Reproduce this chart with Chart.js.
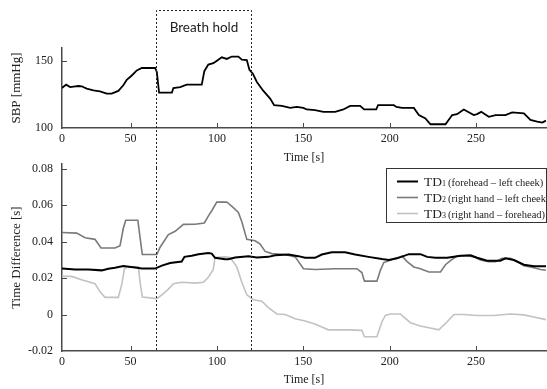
<!DOCTYPE html>
<html>
<head>
<meta charset="utf-8">
<script src="https://cdn.jsdelivr.net/npm/chart.js@4.4.1/dist/chart.umd.min.js"></script>
<style>
  html, body { margin: 0; padding: 0; background: #fff; }
  #wrap { position: relative; width: 547px; height: 389px; overflow: hidden; }
  #sbpChart { position: absolute; left: 0; top: 0; }
  #tdChart { position: absolute; left: 0; top: 148px; }
</style>
</head>
<body>
<div id="wrap">
  <canvas id="sbpChart" width="547" height="168"></canvas>
  <canvas id="tdChart" width="547" height="241"></canvas>
</div>
<script>
// x axis (the printed "0" sits at the left edge of the plot)
const xTickValues = [10.3, 50, 100, 150, 200, 250];
const xTickLabels = ['0', '50', '100', '150', '200', '250'];
const breathHold = [65, 120];

// systolic blood pressure
const sbpTicks = [100, 150];
const sbpTime = [10.3, 12.7, 15, 17, 19.8, 21.7, 24.6, 28.5, 32.3, 36.2, 39, 42.9, 45.8, 47.8, 50.7, 53.6, 56.5, 64.2, 65.2, 66.5,
  73.9, 74.8, 78.7, 82.5, 91.2, 92.7, 95, 97.9, 100, 102.8, 105.7, 108.6, 112.4, 114.4, 117.3, 118.8, 120.8, 123.1, 126.9, 130.8,
  133.1, 137.6, 142.4, 146.2, 150, 152, 156.8, 161.6, 168.4, 173.2, 177.1, 182.9, 185.2, 192.2, 193.3, 202.4, 203.9, 207.2, 214, 216.9,
  220.7, 223.6, 232.3, 236.2, 239, 242.9, 248.7, 250.6, 253, 257.4, 261.3, 267, 270.9, 277.7, 281.5, 285.4, 288.3, 290.5];
const sbpValues = [130, 132.5, 130.7, 131, 131.5, 131.3, 129.5, 128.3, 127.5, 125.8, 125.8, 127.8, 132, 136.2, 139.4, 143.2, 145, 145, 142, 126.6,
  126.6, 130, 130.7, 132.5, 132.5, 142.6, 147.6, 148.6, 150.5, 153, 151.8, 153.6, 153.6, 151.3, 151, 143.7, 140.7, 134.5, 127.8, 122.1,
  117.1, 116.6, 115.1, 115.8, 115.1, 113.9, 113.4, 112.1, 112.1, 113.9, 116.6, 116.6, 113.9, 113.9, 117.1, 117.1, 115.8, 115.1, 115.1, 109.7,
  107.2, 102.8, 102.8, 109.7, 110.4, 113.9, 109.7, 110.4, 112.1, 108.4, 109.7, 109.7, 111.7, 110.9, 106, 104.8, 104, 105.5];

// time differences
const tdTicks = [-0.02, 0, 0.02, 0.04, 0.06, 0.08];
const tdNames = ['TD1', 'TD2', 'TD3'];
const tdPairs = ['(forehead – left cheek)', '(right hand – left cheek)', '(right hand – forehead)'];

const td1Time = [10.3, 17.9, 25.6, 33.3, 37.1, 41, 45.8, 52.6, 56.5, 64.2, 68.1, 72.9, 79.6, 81.2, 85.4, 89.3, 95, 97, 98.9, 104.7,
  106.6, 110.5, 118.2, 123.1, 129.8, 133.7, 141.4, 147.2, 151, 156.8, 160.7, 166.5, 174.2, 180, 187.7, 195.5, 199.5, 204.3, 211.1, 217.8,
  221.7, 226.5, 233.3, 241, 246.8, 250.6, 256.4, 264.1, 267, 271.9, 277.7, 283.5, 290.5];
const td1Values = [0.0252, 0.0247, 0.0247, 0.0242, 0.0251, 0.0256, 0.0266, 0.0258, 0.0252, 0.0252, 0.0268, 0.0282, 0.029, 0.0316, 0.0322, 0.033, 0.0337, 0.0334, 0.0311, 0.0303,
  0.0303, 0.0313, 0.032, 0.0313, 0.0316, 0.0325, 0.0329, 0.032, 0.0311, 0.0311, 0.0329, 0.0341, 0.0341, 0.0329, 0.0316, 0.0304, 0.0299, 0.0308, 0.0331, 0.0331,
  0.0316, 0.0311, 0.0311, 0.0322, 0.0325, 0.0311, 0.0295, 0.0295, 0.0308, 0.0299, 0.0273, 0.0264, 0.0264];

const td2Time = [10.3, 18.8, 23.7, 29.4, 32.9, 41, 43.9, 45.8, 47.2, 54.2, 55.5, 56.8, 65.2, 67.1, 71.9, 75.8, 80.6, 87.3, 92.7, 95,
  97, 99.9, 105.7, 109.5, 112.4, 114.4, 117.3, 122.1, 125, 127.9, 131.8, 139.5, 145.3, 150.1, 156.8, 168.4, 181, 183.9, 185.4, 192.6,
  194.6, 196.6, 199.5, 203.3, 207.2, 210.1, 214, 217.8, 222.7, 229.4, 232.3, 235.2, 239, 244.8, 248.7, 252.5, 257.4, 261.3, 265.1, 269.9,
  273.8, 277.7, 283.5, 287.3, 290.5];
const td2Values = [0.045, 0.0446, 0.0421, 0.0412, 0.0365, 0.0365, 0.0377, 0.0473, 0.0517, 0.0517, 0.0421, 0.0329, 0.0329, 0.0369, 0.0438, 0.0456, 0.0494, 0.0495, 0.0502, 0.0539,
  0.0569, 0.0616, 0.0617, 0.0586, 0.056, 0.0508, 0.0412, 0.0404, 0.0386, 0.0346, 0.0334, 0.0329, 0.0316, 0.0251, 0.0247, 0.0251, 0.0251, 0.023, 0.0183, 0.0183,
  0.0242, 0.0285, 0.0295, 0.0308, 0.032, 0.029, 0.0261, 0.0251, 0.0233, 0.0233, 0.0273, 0.0295, 0.032, 0.0322, 0.0316, 0.0299, 0.029, 0.029, 0.0308, 0.0308,
  0.029, 0.0268, 0.0256, 0.0247, 0.0243];

const td3Time = [10.3, 15.9, 21.7, 29.4, 32.3, 35.2, 42.9, 44.9, 46.4, 47.8, 54.5, 55.5, 56.8, 65.2, 68.1, 71.9, 74.8, 79.6, 87.3, 92.2,
  95, 97.9, 98.9, 104.7, 107.6, 111.5, 114.4, 117.3, 121.1, 126, 129.8, 134.7, 139.5, 145.3, 151, 156.8, 164.5, 176.1, 183.9, 185.4,
  192.6, 195.6, 197.5, 200.4, 206.2, 208.2, 212, 217.8, 228.5, 230.4, 233.3, 237.2, 242.9, 250.6, 260.3, 269.9, 277.7, 283.5, 290.5];
const td3Values = [0.0209, 0.0209, 0.0191, 0.0169, 0.0125, 0.0094, 0.0094, 0.0165, 0.0247, 0.0261, 0.0261, 0.0177, 0.0096, 0.0087, 0.0108, 0.0139, 0.0169, 0.0177, 0.0172, 0.0177,
  0.0204, 0.0247, 0.0313, 0.0316, 0.0313, 0.0261, 0.0177, 0.0108, 0.0081, 0.0073, 0.0038, 0.0003, 0, -0.0023, -0.0035, -0.0052, -0.0084, -0.0084, -0.0087, -0.0122,
  -0.0122, -0.0038, -0.0005, 0.0003, 0.0003, -0.0014, -0.0045, -0.0063, -0.0084, -0.0066, -0.004, 0, 0, -0.0005, -0.0005, 0.0003, -0.0002, -0.0014, -0.0028];

const axisColor = '#4a4a4a';
const dotColor = '#222';

Chart.defaults.font.family = "'Liberation Serif', 'Times New Roman', serif";
Chart.defaults.font.size = 12;
Chart.defaults.color = '#222';

const pts = (t, v) => t.map((x, i) => ({x: x, y: v[i]}));

// small tick marks pointing into the plot
const inwardTicks = {
  id: 'inwardTicks',
  afterDraw(chart) {
    const {ctx, chartArea: a, scales: {x, y}} = chart;
    ctx.save();
    ctx.strokeStyle = axisColor;
    ctx.lineWidth = 1;
    ctx.beginPath();
    x.ticks.forEach(t => {
      const px = Math.round(x.getPixelForValue(t.value)) + 0.5;
      if (px - a.left < 3) return;
      ctx.moveTo(px, a.bottom);
      ctx.lineTo(px, a.bottom - 5);
    });
    y.ticks.forEach(t => {
      const py = Math.round(y.getPixelForValue(t.value)) + 0.5;
      if (a.bottom - py < 3) return;
      ctx.moveTo(a.left, py);
      ctx.lineTo(a.left + 5, py);
    });
    ctx.stroke();
    ctx.restore();
  }
};

// dotted "Breath hold" frame, upper part
const breathTop = {
  id: 'breathTop',
  afterDraw(chart) {
    const {ctx, scales: {x}} = chart;
    const x0 = Math.round(x.getPixelForValue(breathHold[0])) + 0.5;
    const x1 = Math.round(x.getPixelForValue(breathHold[1])) + 0.5;
    ctx.save();
    ctx.strokeStyle = dotColor;
    ctx.lineWidth = 1;
    ctx.setLineDash([2, 2]);
    ctx.beginPath();
    ctx.moveTo(x0, chart.height);
    ctx.lineTo(x0, 10.5);
    ctx.lineTo(x1, 10.5);
    ctx.lineTo(x1, chart.height);
    ctx.stroke();
    ctx.setLineDash([]);
    ctx.fillStyle = '#222';
    ctx.font = "13.5px Lato, 'Open Sans', sans-serif";
    ctx.textAlign = 'center';
    ctx.textBaseline = 'middle';
    ctx.fillText('Breath hold', (x0 + x1) / 2, 28);
    ctx.restore();
  }
};

// dotted frame, lower part
const breathBottom = {
  id: 'breathBottom',
  afterDraw(chart) {
    const {ctx, chartArea: a, scales: {x}} = chart;
    ctx.save();
    ctx.strokeStyle = dotColor;
    ctx.lineWidth = 1;
    ctx.setLineDash([2, 2]);
    ctx.beginPath();
    breathHold.forEach(v => {
      const px = Math.round(x.getPixelForValue(v)) + 0.5;
      ctx.moveTo(px, 20);
      ctx.lineTo(px, a.bottom);
    });
    ctx.stroke();
    ctx.restore();
  }
};

// boxed legend with subscripts
const boxLegend = {
  id: 'boxLegend',
  afterDraw(chart) {
    const {ctx} = chart;
    const left = 386.5, top = 20.5, right = 546.5, bottom = 74.5;
    ctx.save();
    ctx.fillStyle = '#fff';
    ctx.fillRect(left, top, right - left, bottom - top);
    ctx.strokeStyle = '#333';
    ctx.lineWidth = 1;
    ctx.strokeRect(left, top, right - left, bottom - top);
    chart.data.datasets.forEach((ds, i) => {
      const yy = top + 13 + i * 16;
      ctx.strokeStyle = ds.borderColor;
      ctx.lineWidth = ds.borderWidth;
      ctx.beginPath();
      ctx.moveTo(397, yy);
      ctx.lineTo(418, yy);
      ctx.stroke();
      const name = tdNames[i];
      const base = yy + 4.5;
      ctx.fillStyle = '#222';
      ctx.textBaseline = 'alphabetic';
      ctx.textAlign = 'left';
      ctx.font = "13.5px 'Liberation Serif', serif";
      let tx = 424;
      const main = name.slice(0, -1);
      ctx.fillText(main, tx, base);
      tx += ctx.measureText(main).width;
      ctx.font = "8px 'Liberation Serif', serif";
      ctx.fillText(name.slice(-1), tx, base);
      tx += ctx.measureText(name.slice(-1)).width + 2;
      ctx.font = "10.5px 'Liberation Serif', serif";
      ctx.fillText(tdPairs[i], tx, base);
    });
    ctx.restore();
  }
};

function axes(yMin, yMax, yTicks, yTitle, yFormat, xHeight, titleBottom) {
  return {
    x: {
      type: 'linear',
      min: 10.3,
      max: 290.5,
      afterBuildTicks: s => { s.ticks = xTickValues.map(v => ({value: v})); },
      afterFit: s => { s.height = xHeight; },
      ticks: { padding: 4, maxRotation: 0, autoSkip: false, callback: (v, i) => xTickLabels[i] },
      grid: { drawOnChartArea: false, drawTicks: false },
      border: { color: axisColor, width: 1.5 },
      title: { display: true, text: 'Time [s]', padding: {top: 0, bottom: titleBottom}, font: {size: 12} }
    },
    y: {
      min: yMin,
      max: yMax,
      afterBuildTicks: s => { s.ticks = yTicks.map(v => ({value: v})); },
      afterFit: s => { s.width = 62; },
      ticks: { padding: 9, callback: yFormat },
      grid: { drawOnChartArea: false, drawTicks: false },
      border: { color: axisColor, width: 1.5 },
      title: { display: true, text: yTitle, padding: {top: 9, bottom: 0}, font: {size: 13} }
    }
  };
}

new Chart(document.getElementById('sbpChart'), {
  type: 'line',
  data: {
    datasets: [{
      label: 'SBP',
      data: pts(sbpTime, sbpValues),
      borderColor: '#000',
      borderWidth: 1.8,
      pointRadius: 0,
      tension: 0,
      fill: false
    }]
  },
  options: {
    responsive: false,
    animation: false,
    layout: { padding: {top: 48, right: 1, left: 0, bottom: 0} },
    plugins: { legend: { display: false }, tooltip: { enabled: false } },
    scales: axes(100, 160, sbpTicks, 'SBP [mmHg]', v => v, 40, 2.5)
  },
  plugins: [inwardTicks, breathTop]
});

new Chart(document.getElementById('tdChart'), {
  type: 'line',
  data: {
    datasets: [{
      label: tdNames[0] + ' ' + tdPairs[0],
      data: pts(td1Time, td1Values),
      borderColor: '#000',
      borderWidth: 2,
      pointRadius: 0,
      tension: 0,
      fill: false
    }, {
      label: tdNames[1] + ' ' + tdPairs[1],
      data: pts(td2Time, td2Values),
      borderColor: '#7a7a7a',
      borderWidth: 1.6,
      pointRadius: 0,
      tension: 0,
      fill: false
    }, {
      label: tdNames[2] + ' ' + tdPairs[2],
      data: pts(td3Time, td3Values),
      borderColor: '#c2c2c2',
      borderWidth: 1.6,
      pointRadius: 0,
      tension: 0,
      fill: false
    }]
  },
  options: {
    responsive: false,
    animation: false,
    layout: { padding: {top: 6, right: 1, left: 0, bottom: 0} },
    plugins: { legend: { display: false }, tooltip: { enabled: false } },
    scales: axes(-0.02, 0.0824, tdTicks, 'Time Difference [s]', v => (v === 0 ? '0' : v.toFixed(2)), 38, 1.5)
  },
  plugins: [inwardTicks, breathBottom, boxLegend]
});
</script>
</body>
</html>
